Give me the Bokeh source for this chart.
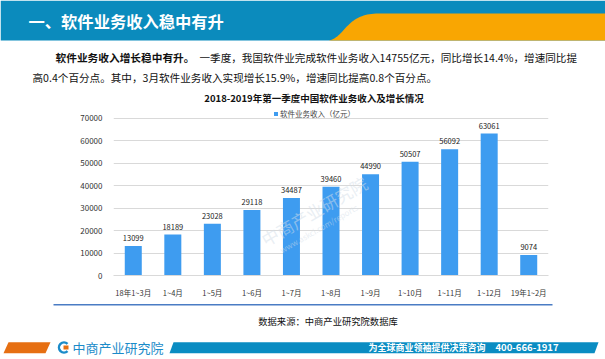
import numpy as np
from bokeh.plotting import figure
from bokeh.layouts import column
from bokeh.models import (FactorRange, Range1d, Label, FixedTicker, NumeralTickFormatter)
from bokeh.embed import file_html
from bokeh.resources import INLINE
from bokeh.core.properties import value

# ---------------- data ----------------
categories = ["18年1~3月", "1~4月", "1~5月", "1~6月", "1~7月", "1~8月",
              "1~9月", "1~10月", "1~11月", "1~12月", "19年1~2月"]
revenue = [13099, 18189, 23028, 29118, 34487, 39460, 44990, 50507, 56092, 63061, 9074]
y_ticks = [0, 10000, 20000, 30000, 40000, 50000, 60000, 70000]
series_name = "软件业务收入（亿元）"
chart_title = "2018-2019年第一季度中国软件业务收入及增长情况"
page_title = "一、软件业务收入稳中有升"
para_bold = "软件业务收入增长稳中有升。"
para_line1 = "一季度，我国软件业完成软件业务收入14755亿元，同比增长14.4%，增速同比提"
para_line2 = "高0.4个百分点。其中，3月软件业务收入实现增长15.9%，增速同比提高0.8个百分点。"
source_text = "数据来源：中商产业研究院数据库"
footer_brand = "中商产业研究院"
footer_slogan = "为全球商业领袖提供决策咨询"
footer_phone = "400-666-1917"
watermark = "中商产业研究院"
watermark_url = "www.askci.com/reports"

FONT = "Noto Sans CJK SC"
BAR = "#3e9cf0"
BANNER = "#0b8bbd"
ORANGE = "#f9a602"
W = 605
TOP_H, CHART_H, BOT_H = 104, 196, 59


def deco_fig(y0, y1):
    f = figure(width=W, height=y1 - y0, x_range=Range1d(0, W), y_range=Range1d(y1, y0),
               output_backend="svg", toolbar_location=None, min_border=0,
               x_axis_location=None, y_axis_location=None, frame_align=False)
    f.grid.visible = False
    f.outline_line_color = None
    f.background_fill_color = "white"
    f.border_fill_color = "white"
    return f


def txt(f, x, y, s, size, color="#111111", bold=False, align="left"):
    f.text(x=[x], y=[y], text=[s], text_font=value(FONT), text_font_size=size,
           text_font_style="bold" if bold else "normal", text_color=color,
           text_align=align, text_baseline="middle")


# ---------------- top: banner + paragraph + chart title ----------------
top = deco_fig(0, TOP_H)
top.patch(x=[0, W, W, 0], y=[0, 0, 40, 40], fill_color=BANNER, line_color=None)
t = np.linspace(0, 1, 40)
P = np.array([[328, 40], [345, 37], [345, 13], [378, 13]], dtype=float)
B = np.array([(1 - t) ** 3, 3 * (1 - t) ** 2 * t, 3 * (1 - t) * t ** 2, t ** 3])
bx = B.T @ P[:, 0]
by = B.T @ P[:, 1]
top.patch(x=list(bx) + [W, W], y=list(by) + [13, 40], fill_color=ORANGE, line_color=None)
txt(top, 28, 20.5, page_title, "16.3px", color="white", bold=True)
txt(top, 55, 57, para_bold, "10.7px", bold=True)
txt(top, 199, 57, para_line1, "10.6px")
txt(top, 32, 77, para_line2, "10.6px")
txt(top, 313.5, 97, chart_title, "9.5px", bold=True, align="center")

# ---------------- chart ----------------
p = figure(width=W, height=CHART_H, x_range=FactorRange(*categories, range_padding=0),
           y_range=Range1d(0, 76000), output_backend="svg", toolbar_location=None,
           min_border_left=113, min_border_right=57, min_border_top=0, min_border_bottom=24,
           frame_align=False)
p.outline_line_color = None
p.background_fill_color = "white"
p.border_fill_color = "white"

p.vbar(x=categories, top=revenue, width=0.43, fill_color=BAR, line_color=None,
       legend_label=series_name)
p.text(x=categories, y=revenue, text=[str(v) for v in revenue], text_align="center",
       text_baseline="middle", y_offset=-8, text_font_size="7.5px", text_color="#222222",
       text_font=value(FONT))

p.yaxis.ticker = FixedTicker(ticks=y_ticks)
p.yaxis.formatter = NumeralTickFormatter(format="0")
p.yaxis.axis_line_color = None
p.yaxis.major_tick_line_color = None
p.yaxis.minor_tick_line_color = None
p.yaxis.major_label_standoff = 5
p.yaxis.major_label_text_font_size = "8px"
p.yaxis.major_label_text_font = FONT
p.yaxis.major_label_text_color = "#333333"

p.xaxis.axis_line_color = "#d9d9d9"
p.xaxis.major_tick_line_color = None
p.xaxis.minor_tick_line_color = None
p.xaxis.major_label_standoff = 5
p.xaxis.major_label_text_font_size = "7.5px"
p.xaxis.major_label_text_font = FONT
p.xaxis.major_label_text_color = "#333333"

p.xgrid.grid_line_color = None
p.ygrid.grid_line_color = "#d9d9d9"
p.ygrid.ticker = FixedTicker(ticks=y_ticks)

lg = p.legend[0]
lg.location = (160, 156)
lg.orientation = "horizontal"
lg.background_fill_alpha = 0
lg.border_line_color = None
lg.glyph_width = 5
lg.glyph_height = 5
lg.label_height = 8
lg.label_standoff = 2
lg.padding = 0
lg.margin = 0
lg.spacing = 0
lg.label_text_font_size = "7.5px"
lg.label_text_font = FONT
lg.label_text_color = "#444444"

# faint watermark
p.add_layout(Label(x=262, y=136, x_units="canvas", y_units="canvas", text=watermark,
                   text_font=FONT, text_font_size="17px", text_color="#d3dde8", text_alpha=0.5,
                   angle=30, angle_units="deg", text_baseline="middle"))
p.add_layout(Label(x=280, y=146, x_units="canvas", y_units="canvas", text=watermark_url,
                   text_font=FONT, text_font_size="8px", text_color="#d3dde8", text_alpha=0.5,
                   angle=30, angle_units="deg", text_baseline="middle"))

# ---------------- bottom: rule, source, footer ----------------
bot = deco_fig(300, 300 + BOT_H)
bot.patch(x=[53, 552, 552, 53], y=[303.6, 303.6, 305, 305], fill_color="#4a7cc4", line_color=None)
txt(bot, 327.5, 320, source_text, "9.3px", align="center")
bot.patch(x=[8, 50, 45, 3], y=[341.7, 341.7, 352.7, 352.7], fill_color="#e66f12", line_color=None)
bot.patch(x=[173, 598, 594, 169], y=[341.7, 341.7, 352.7, 352.7], fill_color="#0a8cc2",
          line_color=None)
bot.arc(x=[63.5], y=[347], radius=5, radius_units="screen", start_angle=np.radians(45),
        end_angle=np.radians(315), line_color="#1b8bc9", line_width=2.5)
bot.patch(x=[63, 68, 68, 63], y=[345, 345, 349, 349], fill_color="#e66f12", line_color=None)
txt(bot, 72, 347, footer_brand, "13px", color="#1b8bc9")
txt(bot, 368, 346.7, footer_slogan, "9px", color="white", bold=True)
txt(bot, 495, 346.7, footer_phone, "9.5px", color="white", bold=True)

layout = column(top, p, bot, spacing=0)
open("out.html", "w").write(file_html(layout, INLINE))
